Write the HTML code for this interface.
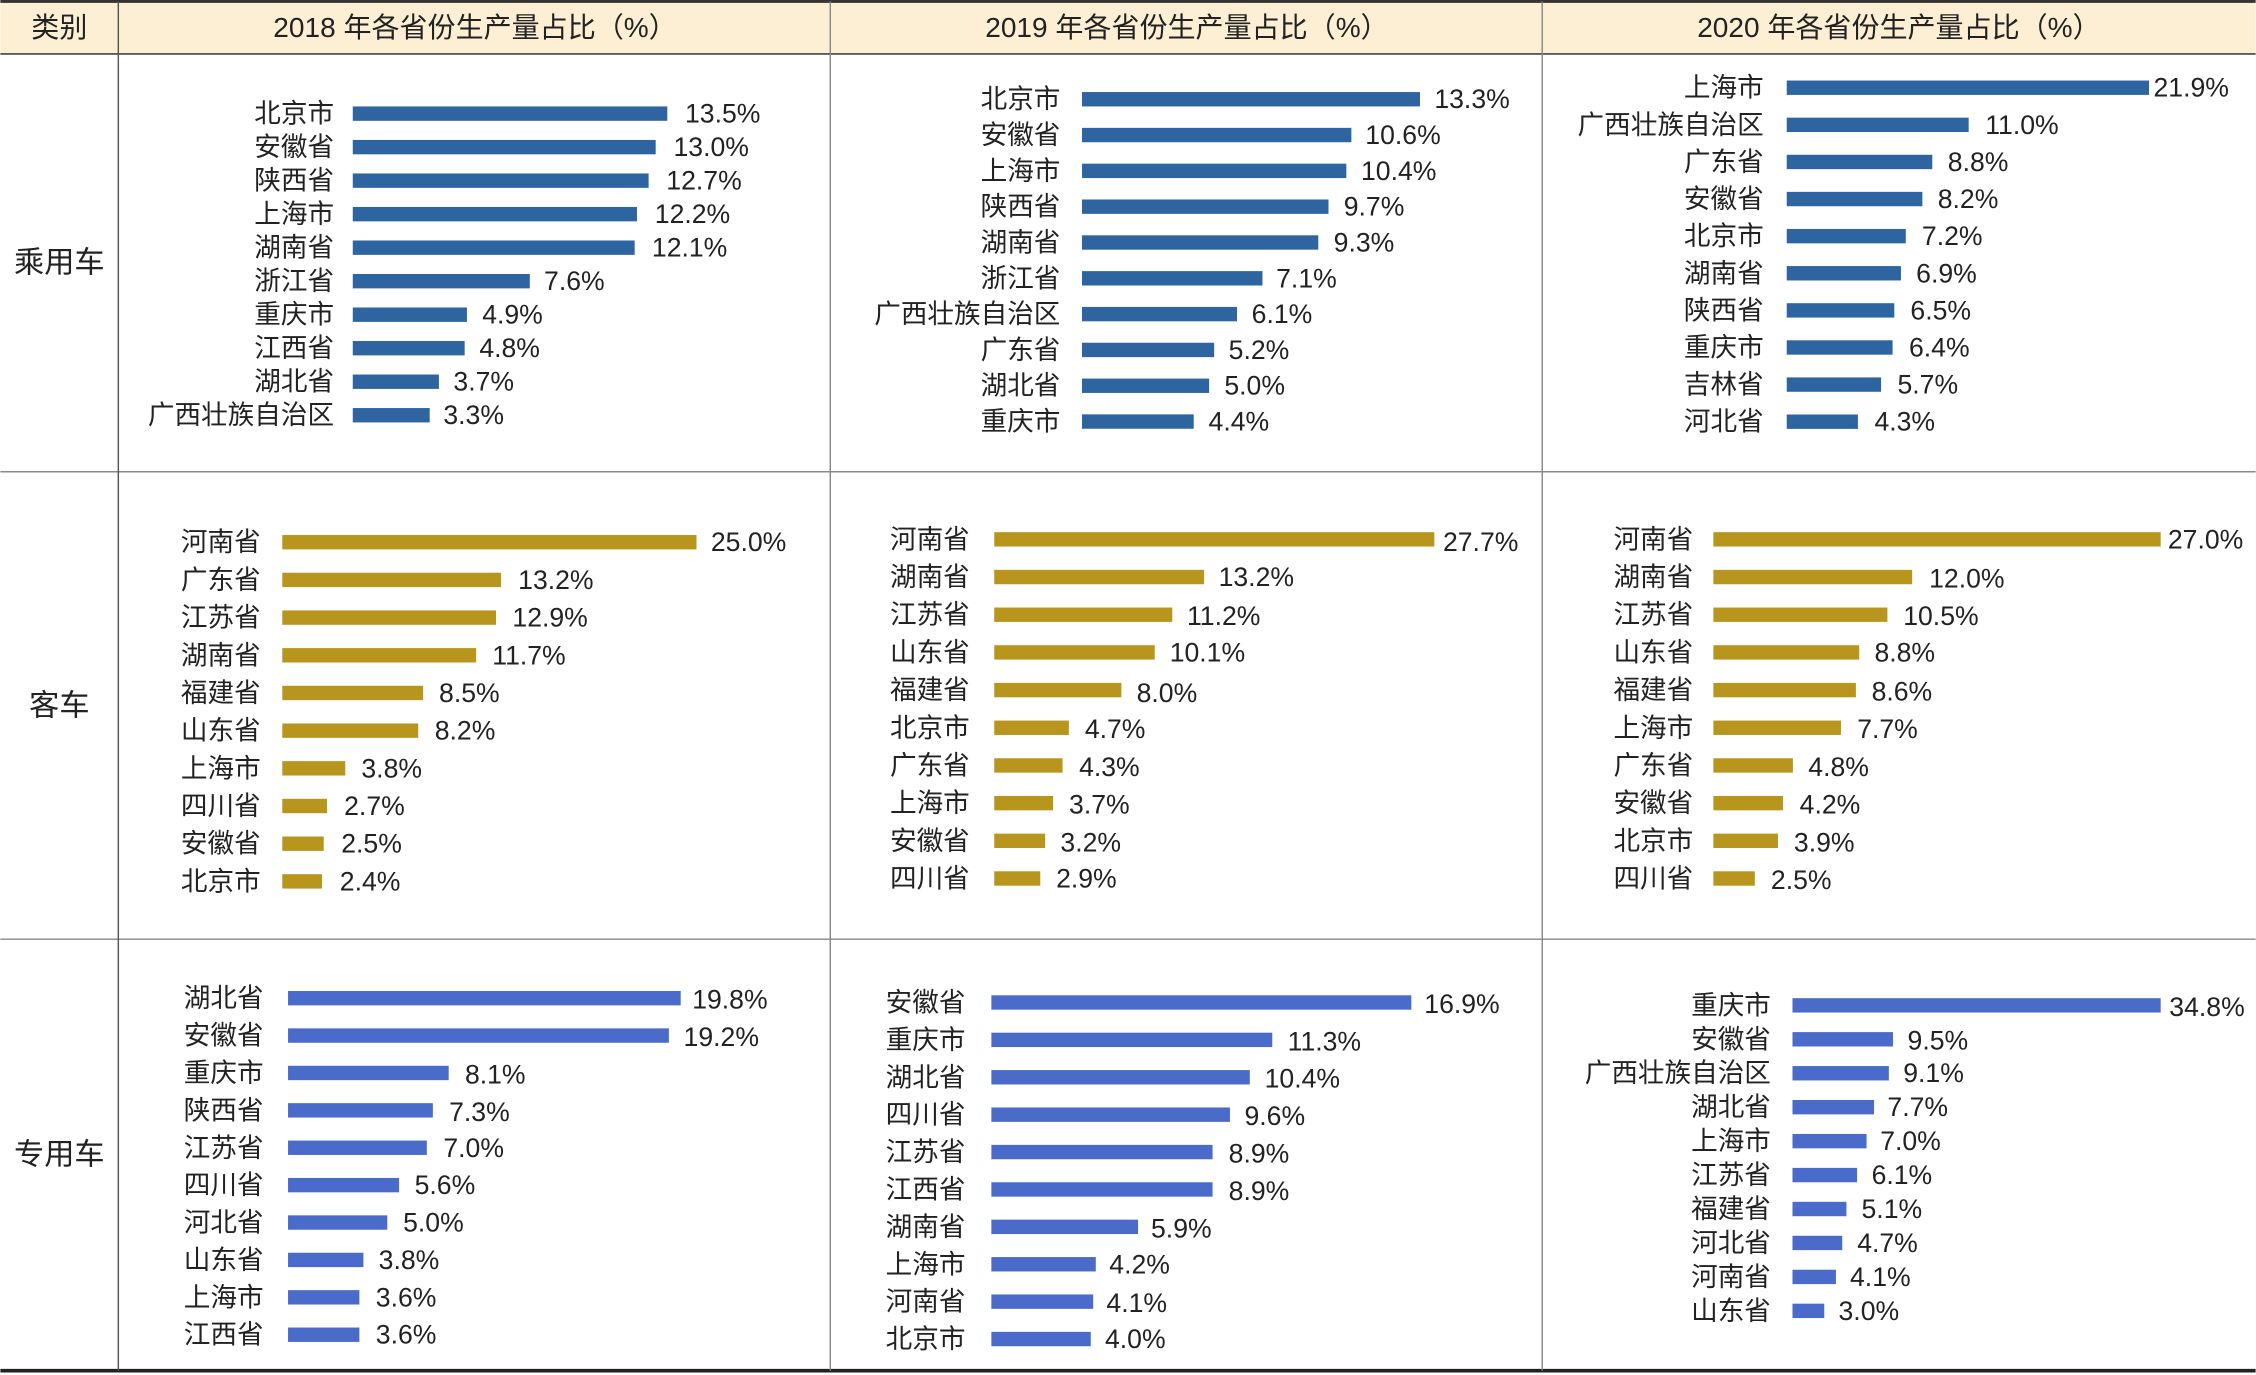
<!DOCTYPE html>
<html><head><meta charset="utf-8"><style>
html,body{margin:0;padding:0;background:#fff}
svg{display:block}
text{font-family:"Liberation Sans","Noto Sans CJK SC",sans-serif;font-size:18.5px;fill:#222;dominant-baseline:central}
.l{text-anchor:end}
.h{font-size:19.5px;text-anchor:middle}
.c{font-size:21px;text-anchor:middle}
.b1 rect{fill:#2e65a0}.b2 rect{fill:#b8961e}.b3 rect{fill:#4a6bc9}
</style></head><body>
<svg width="2256" height="1375" viewBox="0 0 1568 956" xmlns="http://www.w3.org/2000/svg">
<rect x="0" y="1" width="1568" height="37" fill="#fcefd3"/>
<line x1="0" y1="1" x2="1568" y2="1" stroke="#333" stroke-width="2"/>
<line x1="0" y1="37.5" x2="1568" y2="37.5" stroke="#444" stroke-width="1.2"/>
<line x1="0" y1="328" x2="1568" y2="328" stroke="#888" stroke-width="1"/>
<line x1="0" y1="653" x2="1568" y2="653" stroke="#888" stroke-width="1"/>
<line x1="0" y1="953" x2="1568" y2="953" stroke="#222" stroke-width="2.5"/>
<line x1="82" y1="1" x2="82" y2="953" stroke="#555" stroke-width="1"/>
<line x1="577" y1="1" x2="577" y2="953" stroke="#888" stroke-width="1"/>
<line x1="1072" y1="1" x2="1072" y2="953" stroke="#888" stroke-width="1"/>
<text class="h" x="41" y="19">类别</text>
<text class="h" x="330" y="19">2018 年各省份生产量占比（%）</text>
<text class="h" x="825" y="19">2019 年各省份生产量占比（%）</text>
<text class="h" x="1320" y="19">2020 年各省份生产量占比（%）</text>
<text class="c" x="41" y="183">乘用车</text>
<text class="c" x="41" y="491">客车</text>
<text class="c" x="41" y="803">专用车</text>

<g class="b1">
<text class="l" x="232" y="79">北京市</text><rect x="245" y="74" width="218.7" height="10"/><text x="476" y="79">13.5%</text>
<text class="l" x="232" y="102.3">安徽省</text><rect x="245" y="97.3" width="210.6" height="10"/><text x="468" y="102.3">13.0%</text>
<text class="l" x="232" y="125.6">陕西省</text><rect x="245" y="120.6" width="205.7" height="10"/><text x="463" y="125.6">12.7%</text>
<text class="l" x="232" y="148.9">上海市</text><rect x="245" y="143.9" width="197.6" height="10"/><text x="455" y="148.9">12.2%</text>
<text class="l" x="232" y="172.2">湖南省</text><rect x="245" y="167.2" width="196" height="10"/><text x="453" y="172.2">12.1%</text>
<text class="l" x="232" y="195.5">浙江省</text><rect x="245" y="190.5" width="123.1" height="10"/><text x="378" y="195.5">7.6%</text>
<text class="l" x="232" y="218.8">重庆市</text><rect x="245" y="213.8" width="79.4" height="10"/><text x="335" y="218.8">4.9%</text>
<text class="l" x="232" y="242.1">江西省</text><rect x="245" y="237.1" width="77.8" height="10"/><text x="333" y="242.1">4.8%</text>
<text class="l" x="232" y="265.4">湖北省</text><rect x="245" y="260.4" width="59.9" height="10"/><text x="315" y="265.4">3.7%</text>
<text class="l" x="232" y="288.7">广西壮族自治区</text><rect x="245" y="283.7" width="53.5" height="10"/><text x="308" y="288.7">3.3%</text>

<text class="l" x="737" y="69">北京市</text><rect x="752" y="64" width="235" height="10"/><text x="997" y="69">13.3%</text>
<text class="l" x="737" y="93.9">安徽省</text><rect x="752" y="88.9" width="187.3" height="10"/><text x="949" y="93.9">10.6%</text>
<text class="l" x="737" y="118.8">上海市</text><rect x="752" y="113.8" width="183.8" height="10"/><text x="946" y="118.8">10.4%</text>
<text class="l" x="737" y="143.7">陕西省</text><rect x="752" y="138.7" width="171.4" height="10"/><text x="934" y="143.7">9.7%</text>
<text class="l" x="737" y="168.6">湖南省</text><rect x="752" y="163.6" width="164.3" height="10"/><text x="927" y="168.6">9.3%</text>
<text class="l" x="737" y="193.5">浙江省</text><rect x="752" y="188.5" width="125.5" height="10"/><text x="887" y="193.5">7.1%</text>
<text class="l" x="737" y="218.4">广西壮族自治区</text><rect x="752" y="213.4" width="107.8" height="10"/><text x="870" y="218.4">6.1%</text>
<text class="l" x="737" y="243.3">广东省</text><rect x="752" y="238.3" width="91.9" height="10"/><text x="854" y="243.3">5.2%</text>
<text class="l" x="737" y="268.2">湖北省</text><rect x="752" y="263.2" width="88.4" height="10"/><text x="851" y="268.2">5.0%</text>
<text class="l" x="737" y="293.1">重庆市</text><rect x="752" y="288.1" width="77.7" height="10"/><text x="840" y="293.1">4.4%</text>

<text class="l" x="1226" y="61">上海市</text><rect x="1242" y="56" width="251.9" height="10"/><text x="1497" y="61">21.9%</text>
<text class="l" x="1226" y="86.8">广西壮族自治区</text><rect x="1242" y="81.8" width="126.5" height="10"/><text x="1380" y="86.8">11.0%</text>
<text class="l" x="1226" y="112.6">广东省</text><rect x="1242" y="107.6" width="101.2" height="10"/><text x="1354" y="112.6">8.8%</text>
<text class="l" x="1226" y="138.4">安徽省</text><rect x="1242" y="133.4" width="94.3" height="10"/><text x="1347" y="138.4">8.2%</text>
<text class="l" x="1226" y="164.2">北京市</text><rect x="1242" y="159.2" width="82.8" height="10"/><text x="1336" y="164.2">7.2%</text>
<text class="l" x="1226" y="190">湖南省</text><rect x="1242" y="185" width="79.4" height="10"/><text x="1332" y="190">6.9%</text>
<text class="l" x="1226" y="215.8">陕西省</text><rect x="1242" y="210.8" width="74.8" height="10"/><text x="1328" y="215.8">6.5%</text>
<text class="l" x="1226" y="241.6">重庆市</text><rect x="1242" y="236.6" width="73.6" height="10"/><text x="1327" y="241.6">6.4%</text>
<text class="l" x="1226" y="267.4">吉林省</text><rect x="1242" y="262.4" width="65.6" height="10"/><text x="1319" y="267.4">5.7%</text>
<text class="l" x="1226" y="293.2">河北省</text><rect x="1242" y="288.2" width="49.5" height="10"/><text x="1303" y="293.2">4.3%</text>
</g>

<g class="b2">
<text class="l" x="181" y="377">河南省</text><rect x="196" y="372" width="288" height="10"/><text x="494" y="377">25.0%</text>
<text class="l" x="181" y="403.2">广东省</text><rect x="196" y="398.2" width="152.1" height="10"/><text x="360" y="403.2">13.2%</text>
<text class="l" x="181" y="429.4">江苏省</text><rect x="196" y="424.4" width="148.6" height="10"/><text x="356" y="429.4">12.9%</text>
<text class="l" x="181" y="455.6">湖南省</text><rect x="196" y="450.6" width="134.8" height="10"/><text x="342" y="455.6">11.7%</text>
<text class="l" x="181" y="481.8">福建省</text><rect x="196" y="476.8" width="97.9" height="10"/><text x="305" y="481.8">8.5%</text>
<text class="l" x="181" y="508">山东省</text><rect x="196" y="503" width="94.5" height="10"/><text x="302" y="508">8.2%</text>
<text class="l" x="181" y="534.2">上海市</text><rect x="196" y="529.2" width="43.8" height="10"/><text x="251" y="534.2">3.8%</text>
<text class="l" x="181" y="560.4">四川省</text><rect x="196" y="555.4" width="31.1" height="10"/><text x="239" y="560.4">2.7%</text>
<text class="l" x="181" y="586.6">安徽省</text><rect x="196" y="581.6" width="28.8" height="10"/><text x="237" y="586.6">2.5%</text>
<text class="l" x="181" y="612.8">北京市</text><rect x="196" y="607.8" width="27.6" height="10"/><text x="236" y="612.8">2.4%</text>

<text class="l" x="674" y="375">河南省</text><rect x="691" y="370" width="306" height="10"/><text x="1003" y="377">27.7%</text>
<text class="l" x="674" y="401.2">湖南省</text><rect x="691" y="396.2" width="145.9" height="10"/><text x="847" y="401.2">13.2%</text>
<text class="l" x="674" y="427.4">江苏省</text><rect x="691" y="422.4" width="123.8" height="10"/><text x="825" y="428.4">11.2%</text>
<text class="l" x="674" y="453.6">山东省</text><rect x="691" y="448.6" width="111.6" height="10"/><text x="813" y="453.6">10.1%</text>
<text class="l" x="674" y="479.8">福建省</text><rect x="691" y="474.8" width="88.4" height="10"/><text x="790" y="481.8">8.0%</text>
<text class="l" x="674" y="506">北京市</text><rect x="691" y="501" width="51.9" height="10"/><text x="754" y="507">4.7%</text>
<text class="l" x="674" y="532.2">广东省</text><rect x="691" y="527.2" width="47.5" height="10"/><text x="750" y="533.2">4.3%</text>
<text class="l" x="674" y="558.4">上海市</text><rect x="691" y="553.4" width="40.9" height="10"/><text x="743" y="559.4">3.7%</text>
<text class="l" x="674" y="584.6">安徽省</text><rect x="691" y="579.6" width="35.4" height="10"/><text x="737" y="585.6">3.2%</text>
<text class="l" x="674" y="610.8">四川省</text><rect x="691" y="605.8" width="32" height="10"/><text x="734" y="610.8">2.9%</text>

<text class="l" x="1177" y="375">河南省</text><rect x="1191" y="370" width="311" height="10"/><text x="1507" y="375">27.0%</text>
<text class="l" x="1177" y="401.2">湖南省</text><rect x="1191" y="396.2" width="138.2" height="10"/><text x="1341" y="402.2">12.0%</text>
<text class="l" x="1177" y="427.4">江苏省</text><rect x="1191" y="422.4" width="121" height="10"/><text x="1323" y="428.4">10.5%</text>
<text class="l" x="1177" y="453.6">山东省</text><rect x="1191" y="448.6" width="101.4" height="10"/><text x="1303" y="453.6">8.8%</text>
<text class="l" x="1177" y="479.8">福建省</text><rect x="1191" y="474.8" width="99.1" height="10"/><text x="1301" y="480.8">8.6%</text>
<text class="l" x="1177" y="506">上海市</text><rect x="1191" y="501" width="88.7" height="10"/><text x="1291" y="507">7.7%</text>
<text class="l" x="1177" y="532.2">广东省</text><rect x="1191" y="527.2" width="55.3" height="10"/><text x="1257" y="533.2">4.8%</text>
<text class="l" x="1177" y="558.4">安徽省</text><rect x="1191" y="553.4" width="48.4" height="10"/><text x="1251" y="559.4">4.2%</text>
<text class="l" x="1177" y="584.6">北京市</text><rect x="1191" y="579.6" width="44.9" height="10"/><text x="1247" y="585.6">3.9%</text>
<text class="l" x="1177" y="610.8">四川省</text><rect x="1191" y="605.8" width="28.8" height="10"/><text x="1231" y="611.8">2.5%</text>
</g>

<g class="b3">
<text class="l" x="183" y="694">湖北省</text><rect x="200" y="689" width="273" height="10"/><text x="481" y="695">19.8%</text>
<text class="l" x="183" y="720">安徽省</text><rect x="200" y="715" width="264.8" height="10"/><text x="475" y="721">19.2%</text>
<text class="l" x="183" y="746">重庆市</text><rect x="200" y="741" width="111.7" height="10"/><text x="323" y="747">8.1%</text>
<text class="l" x="183" y="772">陕西省</text><rect x="200" y="767" width="100.7" height="10"/><text x="312" y="773">7.3%</text>
<text class="l" x="183" y="798">江苏省</text><rect x="200" y="793" width="96.5" height="10"/><text x="308" y="798">7.0%</text>
<text class="l" x="183" y="824">四川省</text><rect x="200" y="819" width="77.2" height="10"/><text x="288" y="824">5.6%</text>
<text class="l" x="183" y="850">河北省</text><rect x="200" y="845" width="69" height="10"/><text x="280" y="850">5.0%</text>
<text class="l" x="183" y="876">山东省</text><rect x="200" y="871" width="52.4" height="10"/><text x="263" y="876">3.8%</text>
<text class="l" x="183" y="902">上海市</text><rect x="200" y="897" width="49.6" height="10"/><text x="261" y="902">3.6%</text>
<text class="l" x="183" y="928">江西省</text><rect x="200" y="923" width="49.6" height="10"/><text x="261" y="928">3.6%</text>

<text class="l" x="671" y="697">安徽省</text><rect x="689" y="692" width="292" height="10"/><text x="990" y="698">16.9%</text>
<text class="l" x="671" y="723">重庆市</text><rect x="689" y="718" width="195.3" height="10"/><text x="895" y="724">11.3%</text>
<text class="l" x="671" y="749">湖北省</text><rect x="689" y="744" width="179.7" height="10"/><text x="879" y="750">10.4%</text>
<text class="l" x="671" y="775">四川省</text><rect x="689" y="770" width="165.9" height="10"/><text x="865" y="776">9.6%</text>
<text class="l" x="671" y="801">江苏省</text><rect x="689" y="796" width="153.8" height="10"/><text x="854" y="802">8.9%</text>
<text class="l" x="671" y="827">江西省</text><rect x="689" y="822" width="153.8" height="10"/><text x="854" y="828">8.9%</text>
<text class="l" x="671" y="853">湖南省</text><rect x="689" y="848" width="102" height="10"/><text x="800" y="854">5.9%</text>
<text class="l" x="671" y="879">上海市</text><rect x="689" y="874" width="72.6" height="10"/><text x="771" y="879">4.2%</text>
<text class="l" x="671" y="905">河南省</text><rect x="689" y="900" width="70.8" height="10"/><text x="769" y="906">4.1%</text>
<text class="l" x="671" y="931">北京市</text><rect x="689" y="926" width="69.1" height="10"/><text x="768" y="931">4.0%</text>

<text class="l" x="1231" y="699">重庆市</text><rect x="1246" y="694" width="256" height="10"/><text x="1508" y="700">34.8%</text>
<text class="l" x="1231" y="722.6">安徽省</text><rect x="1246" y="717.6" width="69.9" height="10"/><text x="1326" y="723.6">9.5%</text>
<text class="l" x="1231" y="746.2">广西壮族自治区</text><rect x="1246" y="741.2" width="67" height="10"/><text x="1323" y="746.2">9.1%</text>
<text class="l" x="1231" y="769.8">湖北省</text><rect x="1246" y="764.8" width="56.7" height="10"/><text x="1312" y="769.8">7.7%</text>
<text class="l" x="1231" y="793.4">上海市</text><rect x="1246" y="788.4" width="51.5" height="10"/><text x="1307" y="793.4">7.0%</text>
<text class="l" x="1231" y="817">江苏省</text><rect x="1246" y="812" width="44.9" height="10"/><text x="1301" y="817">6.1%</text>
<text class="l" x="1231" y="840.6">福建省</text><rect x="1246" y="835.6" width="37.5" height="10"/><text x="1294" y="840.6">5.1%</text>
<text class="l" x="1231" y="864.2">河北省</text><rect x="1246" y="859.2" width="34.6" height="10"/><text x="1291" y="864.2">4.7%</text>
<text class="l" x="1231" y="887.8">河南省</text><rect x="1246" y="882.8" width="30.2" height="10"/><text x="1286" y="887.8">4.1%</text>
<text class="l" x="1231" y="911.4">山东省</text><rect x="1246" y="906.4" width="22.1" height="10"/><text x="1278" y="911.4">3.0%</text>
</g>
</svg>
</body></html>
